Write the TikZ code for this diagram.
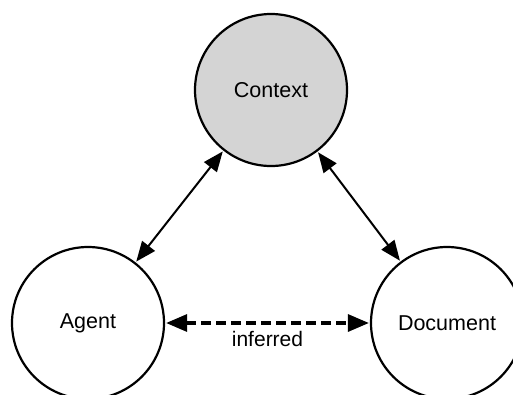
\documentclass[tikz,border=0pt]{standalone}
\usepackage{fontspec}
\setmainfont{Liberation Sans}
\usetikzlibrary{arrows.meta}
\definecolor{ctxgray}{HTML}{D4D4D4}
\begin{document}
\begin{tikzpicture}[x=1pt,y=-1pt,
  concept/.style={circle,draw=black,line width=2.2pt,minimum size=152pt,inner sep=0pt,
    font=\fontsize{21.5}{25}\selectfont},
  link/.style={line width=2pt,{Triangle[length=20pt,width=16pt]}-{Triangle[length=20pt,width=16pt]},shorten <=1pt,shorten >=1pt},
  inferredlink/.style={line width=3.2pt,dash pattern=on 10pt off 5pt,
    {Triangle[length=21pt,width=17pt]}-{Triangle[length=21pt,width=17pt]},shorten <=1pt,shorten >=1pt}]
  \useasboundingbox (0,0) rectangle (513,394);
  \clip (0,0) rectangle (513,394);
  \node[concept,fill=ctxgray] (ctx) at (271,90) {Context};
  \node[concept] (agent) at (88,323) {Agent};
  \node[concept] (doc) at (447,323) {Document};
  \draw[link] (ctx) -- (agent);
  \draw[link] (ctx) -- (doc);
  \draw[inferredlink] (agent) -- node[below=3pt,font=\fontsize{21}{24}\selectfont,text=black]{inferred} (doc);
\end{tikzpicture}
\end{document}
